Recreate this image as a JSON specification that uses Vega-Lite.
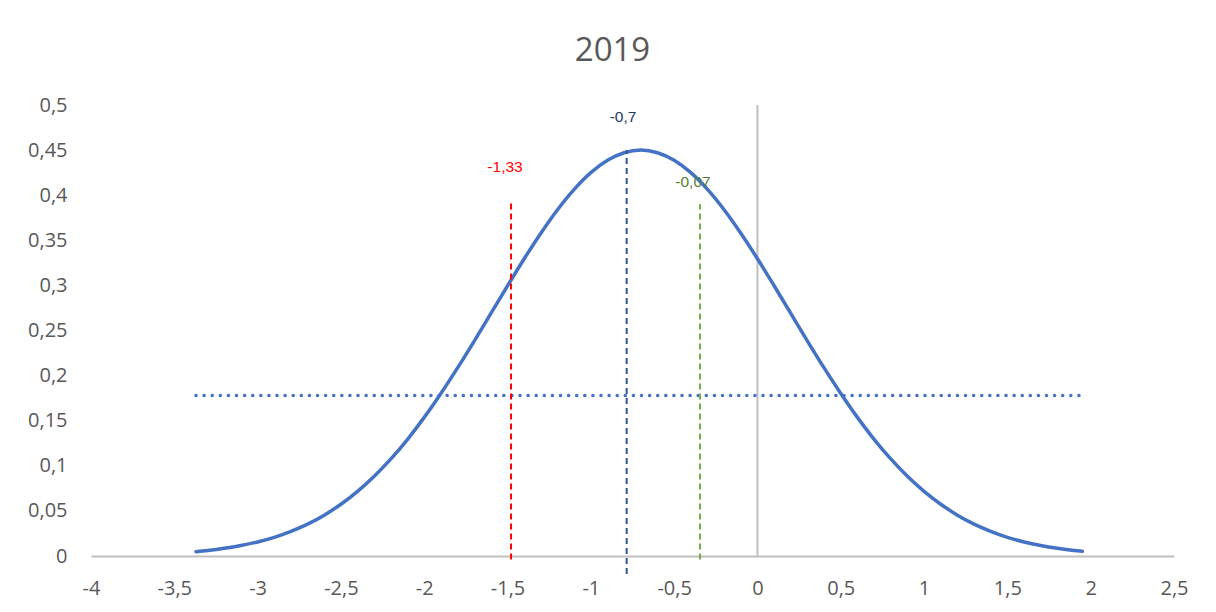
{
  "$schema": "https://vega.github.io/schema/vega-lite/v6.json",
  "autosize": {"type": "none"},
  "width": 1083,
  "height": 451,
  "padding": {"left": 91, "top": 105, "right": 42, "bottom": 56},
  "background": "white",
  "title": {
    "text": "2019",
    "font": "Open Sans",
    "fontSize": 33,
    "fontWeight": "normal",
    "color": "#595959",
    "anchor": "middle",
    "dx": -20,
    "baseline": "alphabetic",
    "offset": 1
  },
  "config": {
    "view": {"stroke": null},
    "axis": {
      "labelFont": "Open Sans",
      "labelFontSize": 20,
      "labelColor": "#595959",
      "grid": false,
      "ticks": false,
      "title": null
    }
  },
  "datasets": {
    "curve": [
      {"x": -3.37, "y": 0.0048}, {"x": -3.3, "y": 0.0061}, {"x": -3.2, "y": 0.0085}, {"x": -3.1, "y": 0.0116},
      {"x": -3.0, "y": 0.0156}, {"x": -2.9, "y": 0.0207}, {"x": -2.8, "y": 0.0273}, {"x": -2.7, "y": 0.0354},
      {"x": -2.6, "y": 0.0453}, {"x": -2.5, "y": 0.0574}, {"x": -2.4, "y": 0.0717}, {"x": -2.3, "y": 0.0884},
      {"x": -2.2, "y": 0.1076}, {"x": -2.1, "y": 0.1294}, {"x": -2.0, "y": 0.1537}, {"x": -1.9, "y": 0.1802},
      {"x": -1.8, "y": 0.2085}, {"x": -1.7, "y": 0.2383}, {"x": -1.6, "y": 0.2689}, {"x": -1.5, "y": 0.2996},
      {"x": -1.4, "y": 0.3296}, {"x": -1.3, "y": 0.3579}, {"x": -1.2, "y": 0.3839}, {"x": -1.1, "y": 0.4065},
      {"x": -1.0, "y": 0.425}, {"x": -0.9, "y": 0.4387}, {"x": -0.8, "y": 0.4471}, {"x": -0.7, "y": 0.45},
      {"x": -0.6, "y": 0.4471}, {"x": -0.5, "y": 0.4387}, {"x": -0.4, "y": 0.425}, {"x": -0.3, "y": 0.4065},
      {"x": -0.2, "y": 0.3839}, {"x": -0.1, "y": 0.3579}, {"x": 0.0, "y": 0.3296}, {"x": 0.1, "y": 0.2996},
      {"x": 0.2, "y": 0.2689}, {"x": 0.3, "y": 0.2383}, {"x": 0.4, "y": 0.2085}, {"x": 0.5, "y": 0.1802},
      {"x": 0.6, "y": 0.1537}, {"x": 0.7, "y": 0.1294}, {"x": 0.8, "y": 0.1076}, {"x": 0.9, "y": 0.0884},
      {"x": 1.0, "y": 0.0717}, {"x": 1.1, "y": 0.0574}, {"x": 1.2, "y": 0.0453}, {"x": 1.3, "y": 0.0354},
      {"x": 1.4, "y": 0.0273}, {"x": 1.5, "y": 0.0207}, {"x": 1.6, "y": 0.0156}, {"x": 1.7, "y": 0.0116},
      {"x": 1.8, "y": 0.0085}, {"x": 1.9, "y": 0.0061}, {"x": 1.95, "y": 0.0052}
    ],
    "vlines": [
      {"name": "-1,33", "x": -1.479, "y": -0.004, "y2": 0.392, "lx": -1.515, "ly": 0.431},
      {"name": "-0,7", "x": -0.785, "y": -0.02, "y2": 0.45, "lx": -0.807, "ly": 0.487},
      {"name": "-0,07", "x": -0.345, "y": -0.004, "y2": 0.39, "lx": -0.387, "ly": 0.415}
    ]
  },
  "layer": [
    {
      "data": {"values": [{"x": 0, "y": 0, "y2": 0.5}]},
      "mark": {"type": "rule", "color": "#BFBFBF", "strokeWidth": 2},
      "encoding": {
        "x": {"field": "x", "type": "quantitative",
              "scale": {"domain": [-4, 2.5], "nice": false, "zero": false},
              "axis": {"values": [-4, -3.5, -3, -2.5, -2, -1.5, -1, -0.5, 0, 0.5, 1, 1.5, 2, 2.5],
                       "labelExpr": "replace(datum.value + '', '.', ',')",
                       "domain": true, "domainColor": "#BFBFBF", "domainWidth": 2,
                       "labelPadding": 22, "labelFlush": false}},
        "y": {"field": "y", "type": "quantitative",
              "scale": {"domain": [0, 0.5], "nice": false},
              "axis": {"values": [0, 0.05, 0.1, 0.15, 0.2, 0.25, 0.3, 0.35, 0.4, 0.45, 0.5],
                       "labelExpr": "replace(datum.value + '', '.', ',')",
                       "domain": false, "labelPadding": 24}},
        "y2": {"field": "y2"}
      }
    },
    {
      "data": {"values": [{"x": -3.37, "x2": 1.95, "y": 0.178}]},
      "mark": {"type": "rule", "color": "#4472C4", "strokeWidth": 3.5, "strokeCap": "round", "strokeDash": [0.1, 8]},
      "encoding": {
        "x": {"field": "x", "type": "quantitative"},
        "x2": {"field": "x2"},
        "y": {"field": "y", "type": "quantitative"}
      }
    },
    {
      "data": {"name": "curve"},
      "mark": {"type": "line", "color": "#4472C4", "strokeWidth": 3.5, "interpolate": "monotone", "strokeCap": "round"},
      "encoding": {
        "x": {"field": "x", "type": "quantitative"},
        "y": {"field": "y", "type": "quantitative"}
      }
    },
    {
      "data": {"name": "vlines"},
      "mark": {"type": "rule", "strokeWidth": 2, "strokeDash": [6, 4]},
      "encoding": {
        "x": {"field": "x", "type": "quantitative"},
        "y": {"field": "y", "type": "quantitative"},
        "y2": {"field": "y2"},
        "color": {"field": "name", "type": "nominal",
                  "scale": {"domain": ["-1,33", "-0,7", "-0,07"], "range": ["#FF0000", "#2F5597", "#70AD47"]},
                  "legend": null}
      }
    },
    {
      "data": {"name": "vlines"},
      "mark": {"type": "text", "font": "Liberation Sans", "fontSize": 15.5, "baseline": "middle", "align": "center"},
      "encoding": {
        "x": {"field": "lx", "type": "quantitative"},
        "y": {"field": "ly", "type": "quantitative"},
        "text": {"field": "name"},
        "color": {"field": "name", "type": "nominal",
                  "scale": {"domain": ["-1,33", "-0,7", "-0,07"], "range": ["#FF0000", "#1F3864", "#548235"]},
                  "legend": null}
      }
    }
  ],
  "resolve": {"scale": {"color": "independent"}}
}
